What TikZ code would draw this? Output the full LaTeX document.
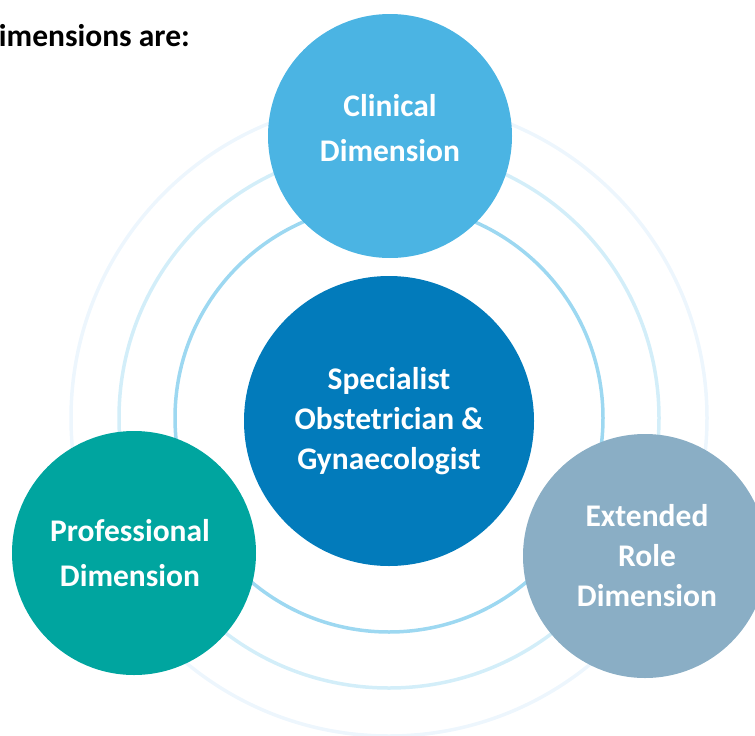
\documentclass[tikz,border=0pt]{standalone}
\usepackage{fontspec}
\setmainfont{Carlito}
\definecolor{clinblue}{HTML}{4BB4E3}
\definecolor{specblue}{HTML}{027BBB}
\definecolor{profteal}{HTML}{00A59F}
\definecolor{extgrey}{HTML}{8AAEC5}
\definecolor{ringA}{HTML}{9DD8F1}
\definecolor{ringB}{HTML}{D3EEF9}
\definecolor{ringC}{HTML}{EDF6FD}
\begin{document}
\begin{tikzpicture}[x=1pt, y=-1pt,
	dim/.style={circle, inner sep=0pt, minimum size=244pt},
	dimtxt/.style={text=white, align=center, font=\fontsize{31.5}{45}\selectfont\bfseries},
	dimtxtthree/.style={dimtxt, font=\fontsize{31.5}{40}\selectfont\bfseries},
	ring/.style={line width=3.5pt}]
	\useasboundingbox (0,0) rectangle (755,736);

	\node[anchor=base east, inner sep=0pt, font=\fontsize{31.5}{40}\selectfont\bfseries] (head) at (190,46) {Dimensions are:};

	% rings round the centre
	\coordinate (o) at (389,418);
	\draw[ring, ringC] (o) circle (318pt);
	\draw[ring, ringB] (o) circle (270pt);
	\draw[ring, ringA] (o) circle (214pt);

	\node[dim, fill=specblue, minimum size=290pt] (spec) at (389,421) {};
	\node[dim, fill=clinblue] (clin) at (390,136) {};
	\node[dim, fill=profteal] (prof) at (134,553) {};
	\node[dim, fill=extgrey] (ext) at (645,556) {};

	\node[dimtxtthree] (spectxt) at (spec) {Specialist\\Obstetrician \&\\Gynaecologist};
	\node[dimtxt] (clintxt) at ([yshift=8pt]clin) {Clinical\\Dimension};
	\node[dimtxt] (proftxt) at ([xshift=-4pt]prof) {Professional\\Dimension};
	\node[dimtxtthree] (exttxt) at ([xshift=2pt]ext) {Extended\\Role\\Dimension};
\end{tikzpicture}
\end{document}
